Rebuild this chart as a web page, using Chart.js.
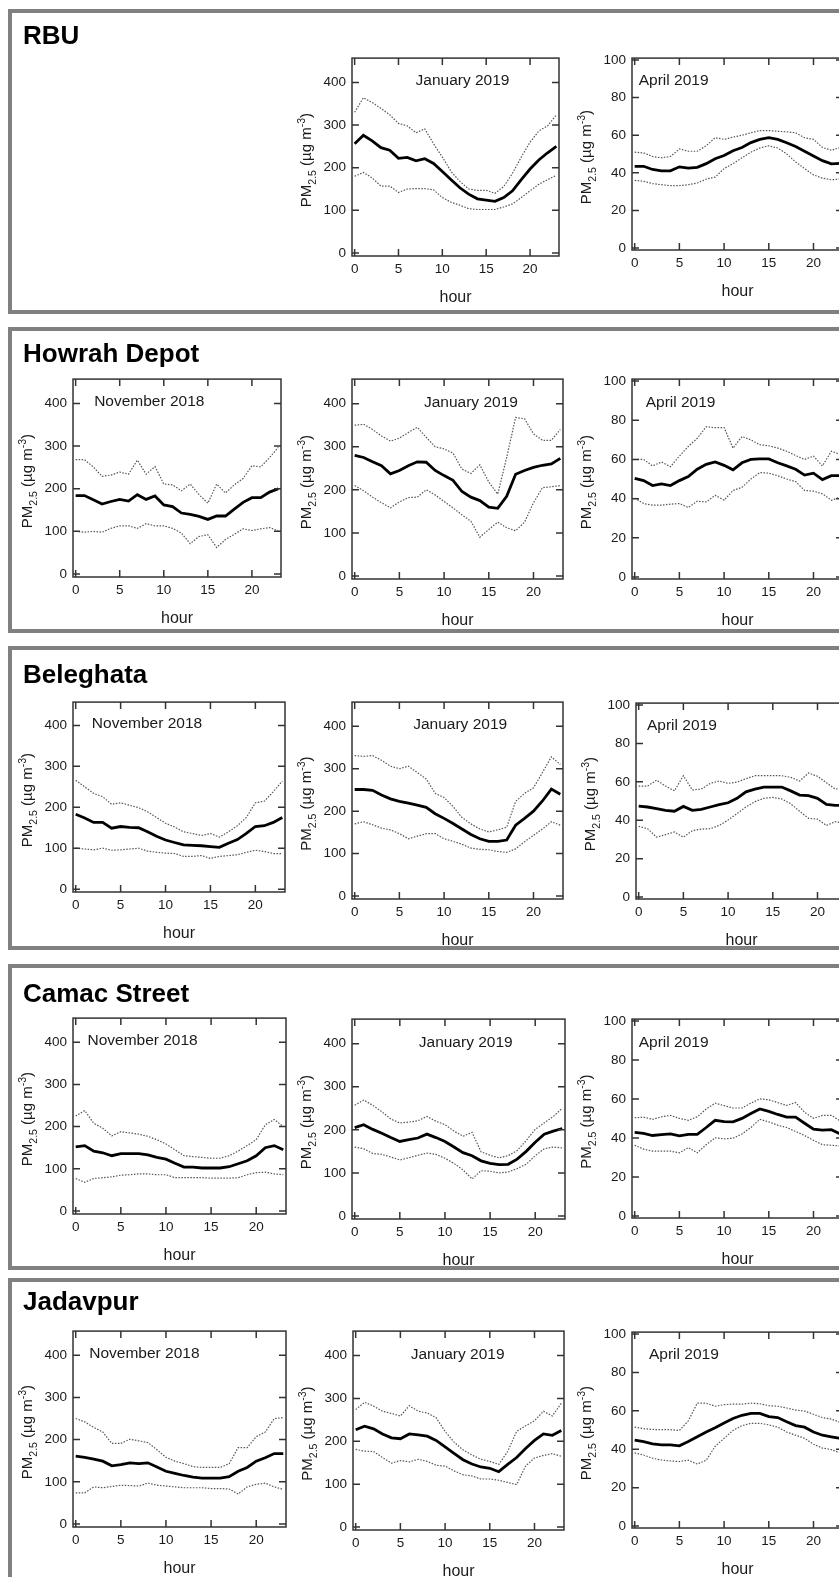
<!DOCTYPE html>
<html>
<head>
<meta charset="utf-8">
<script src="https://cdn.jsdelivr.net/npm/chart.js@4.4.1/dist/chart.umd.min.js"></script>
<style>
body{margin:0;width:839px;height:1577px;overflow:hidden;background:#fff;position:relative;font-family:"Liberation Sans",Arial,sans-serif}
.panel{position:absolute;left:8px;width:900px;border:4px solid #808080;box-sizing:border-box;z-index:2;pointer-events:none}
.site{position:absolute;left:23px;font-weight:bold;font-size:26px;line-height:26px;color:#000;z-index:3}
canvas{position:absolute;z-index:1}
</style>
</head>
<body>
<div class="panel" style="top:9px;height:305px"></div>
<div class="panel" style="top:327px;height:306px"></div>
<div class="panel" style="top:646px;height:304px"></div>
<div class="panel" style="top:964px;height:306px"></div>
<div class="panel" style="top:1278px;height:340px"></div>
<div class="site" style="top:22px">RBU</div>
<div class="site" style="top:340px">Howrah Depot</div>
<div class="site" style="top:661px">Beleghata</div>
<div class="site" style="top:980px">Camac Street</div>
<div class="site" style="top:1288px">Jadavpur</div>
<script>
// hours and tick values
let hours=[0,1,2,3,4,5,6,7,8,9,10,11,12,13,14,15,16,17,18,19,20,21,22,23]
let xTicks=[0,5,10,15,20]
let yTicksWinter=[0,100,200,300,400]
let yTicksApril=[0,20,40,60,80,100]

// RBU
let rbuJanMean=[256,276,263,247,241,222,224,216,221,210,191,172,153,138,127,124,121,130,146,172,197,218,235,250]
let rbuJanHi=[330,364,353,339,324,304,298,282,291,256,225,191,168,150,147,147,140,156,187,225,260,286,298,324]
let rbuJanLo=[180,189,176,157,157,142,150,151,151,148,130,119,112,104,102,102,102,108,115,130,146,161,172,182]
let rbuAprMean=[43.5,43.5,41.8,41.1,41.1,43.2,42.5,42.9,44.9,47.5,49.2,51.8,53.5,56.1,57.8,58.7,57.8,56,54,51.5,49,46.5,44.8,45]
let rbuAprHi=[51,50.6,48.7,48,48.7,52.7,51.5,51.5,54.4,58.7,57.8,59,60,61.3,62.5,62.5,62.1,61.8,61.3,58.7,57.8,53.5,52,53.5]
let rbuAprLo=[36,35.5,34.3,33.7,33.2,33.2,33.7,34.6,36.7,37.7,42.3,44.9,48,51,53.2,54.4,53.2,50.1,45.8,42.3,38.9,37.2,36.3,36.7]

// Howrah Depot
let howNovMean=[184,184,174,164,170,175,171,186,175,183,162,158,143,140,135,128,136,136,152,168,179,179,192,200]
let howNovHi=[268,268,251,229,232,239,234,267,234,252,211,209,195,211,186,166,211,190,209,224,254,251,273,297]
let howNovLo=[100,98,100,98,107,113,113,107,118,113,113,107,96,71,88,92,62,81,93,106,102,106,109,101]
let howJanMean=[280,275,265,256,237,245,256,265,264,245,233,222,196,183,175,160,157,185,236,245,252,257,260,273]
let howJanHi=[350,352,340,325,313,320,333,345,322,300,295,285,248,238,258,218,190,275,368,365,330,315,315,340]
let howJanLo=[210,198,183,170,158,172,182,183,200,188,173,158,142,127,90,108,125,112,105,125,170,205,207,210]
let howAprMean=[50.3,49.2,46.7,47.5,46.7,49.2,51.3,55,57.5,58.7,57,54.7,58.3,60,60.3,60.3,58.3,56.7,55,52,53,49.7,51.7,51.7]
let howAprHi=[60,60,56.7,58.7,56.3,61.7,66.7,70.8,76.7,76.2,76.3,65.8,71.7,70,67.5,67,65.8,64.2,62,60,61.7,56.7,64.2,62.5]
let howAprLo=[40.3,37.5,36.7,36.7,37.2,37.5,35.5,38.7,38.3,41.7,39.2,44.2,45.8,50,53.3,53,51.7,50,48.7,44.2,43.8,42.5,39.2,40.8]

// Beleghata
let belNovMean=[183,174,163,163,149,153,151,150,140,129,120,114,108,107,106,104,102,112,121,136,153,155,163,175]
let belNovHi=[266,250,234,226,207,211,205,199,189,175,161,152,140,136,131,136,127,140,155,175,211,215,238,264]
let belNovLo=[100,98,96,100,95,96,98,100,93,90,88,87,80,80,82,75,80,82,84,90,95,92,87,87]
let belJanMean=[251,251,249,238,229,223,219,214,209,194,183,171,158,145,135,129,129,132,167,183,200,224,252,240]
let belJanHi=[331,329,331,320,306,300,306,291,276,242,232,211,185,170,158,151,156,162,223,242,255,291,328,310]
let belJanLo=[170,175,168,160,156,147,135,141,147,147,135,129,122,113,110,109,105,103,111,128,143,158,175,167]
let belAprMean=[47.4,46.9,46,45.2,44.7,47.2,45.2,45.7,46.9,48.1,49.1,51.4,54.8,56.2,57.3,57.3,57.3,55.3,53.1,52.8,51.4,48.2,47.7,47.7]
let belAprHi=[57.8,57.8,60.9,57.8,55.3,63.2,55.8,56.2,59.2,60.4,59.2,59.9,61.6,63.2,63.2,63.2,63.2,62.4,60.4,64.6,62.9,59.5,56.2,57]
let belAprLo=[36.8,35.6,31.2,32.5,33.9,31.2,34.6,35.4,35.6,37.3,40.1,43.5,46.9,49.7,51.4,51.9,51.1,48.6,44.7,41,40.6,37.3,39.3,38.4]

// Camac Street
let camNovMean=[152,155,142,138,131,136,136,136,133,127,123,113,104,104,102,102,102,105,112,119,131,150,155,145]
let camNovHi=[225,238,208,196,178,188,185,182,177,169,159,145,131,129,127,125,125,131,142,155,169,204,217,200]
let camNovLo=[77,68,77,79,81,85,86,88,88,86,86,79,79,79,79,78,78,78,79,86,91,92,88,86]
let camJanMean=[205,212,201,192,182,173,177,181,190,182,173,160,147,140,128,122,119,120,132,150,171,190,197,203]
let camJanHi=[257,269,257,242,225,216,218,221,231,220,212,197,185,194,149,141,135,140,152,175,201,216,231,250]
let camJanLo=[160,156,145,143,137,130,135,141,146,143,134,122,107,86,105,104,100,102,110,120,140,156,160,158]
let camAprMean=[42.9,42.4,41.3,41.8,42.1,41.1,41.9,41.9,45.4,49.1,48.4,48.3,50.1,52.6,54.9,53.7,52.1,50.7,50.7,47.6,44.6,44.1,44.3,42.1]
let camAprHi=[50.4,50.7,49.6,50.9,51.6,50.1,49.1,50.9,54.9,57.9,56.6,55.4,55.4,57.9,60.1,59.6,58.2,56.7,58.2,53.2,50.1,51.6,51.6,48.8]
let camAprLo=[36.3,34.3,33.3,33.3,33.3,32.4,35.1,32.4,36.6,40.1,39.6,39.9,42.1,45.4,49.6,48.3,46.6,45.4,43.4,41.3,38.8,36.6,36.3,35.9]

// Jadavpur
let jadNovMean=[161,158,154,149,138,141,145,143,145,135,125,120,115,111,109,109,109,112,125,134,149,157,167,167]
let jadNovHi=[250,242,229,218,191,191,201,197,193,176,158,149,143,136,134,134,134,143,181,181,207,218,250,252]
let jadNovLo=[74,74,88,86,89,92,91,90,97,92,90,88,86,86,86,84,84,83,71,88,94,97,88,82]
let jadJanMean=[227,235,229,217,208,206,217,215,212,202,187,172,157,147,140,137,129,146,162,183,202,217,214,225]
let jadJanHi=[274,291,282,270,265,259,283,270,266,255,223,198,180,168,158,153,146,176,223,236,248,270,259,289]
let jadJanLo=[181,177,176,162,149,155,152,158,153,144,142,131,122,119,112,112,109,104,99,142,161,167,171,165]
let jadAprMean=[44.8,44,42.8,42.3,42.3,41.8,44,46.5,49,51.2,53.7,56,57.7,58.7,58.7,57,56.5,54.3,52.3,51.5,49,47.3,46.5,45.7]
let jadAprHi=[51.5,50.7,50.3,50.2,50.2,49.8,54.8,64,64,62.4,63.2,63.5,63.5,64,63.7,62.7,62.4,61.5,60.4,59.9,58.2,56.5,55.7,54]
let jadAprLo=[38.1,37,35.3,34.4,33.9,33.6,34.3,32.3,34.3,41.5,45.7,49.8,52.3,53.5,53.5,52.7,51.5,49,47.3,45.7,42.6,40.6,39.8,38.1]

const FONT='"Liberation Sans", Arial, sans-serif'
const PL=62, PT=8, PR=8, PB=58

// one entry per small plot: where the plot box sits and what it shows
let graficos=[
  {left:352,top:51.7,w:207,h:203.6,inv:true,mes:'January 2019',mx:12.3,mean:rbuJanMean,hi:rbuJanHi,lo:rbuJanLo},
  {left:631.5,top:51.7,w:211,h:197.7,inv:false,mes:'April 2019',mx:0.45,mean:rbuAprMean,hi:rbuAprHi,lo:rbuAprLo},

  {left:72.5,top:372.7,w:208,h:204,inv:true,mes:'November 2018',mx:2.1,mean:howNovMean,hi:howNovHi,lo:howNovLo},
  {left:352,top:372.7,w:210.5,h:205.6,inv:true,mes:'January 2019',mx:13,mean:howJanMean,hi:howJanHi,lo:howJanLo},
  {left:631.5,top:372.7,w:211,h:205.6,inv:false,mes:'April 2019',mx:1.23,mean:howAprMean,hi:howAprHi,lo:howAprLo},

  {left:73,top:696,w:211.5,h:195.7,inv:true,mes:'November 2018',mx:1.8,mean:belNovMean,hi:belNovHi,lo:belNovLo},
  {left:352,top:696,w:211,h:203,inv:true,mes:'January 2019',mx:11.8,mean:belJanMean,hi:belJanHi,lo:belJanLo},
  {left:635.5,top:696.7,w:211,h:201.6,inv:false,mes:'April 2019',mx:0.93,mean:belAprMean,hi:belAprHi,lo:belAprLo},

  {left:73,top:1011.7,w:213,h:201.6,inv:true,mes:'November 2018',mx:1.3,mean:camNovMean,hi:camNovHi,lo:camNovLo},
  {left:352,top:1013.3,w:213,h:206,inv:true,mes:'January 2019',mx:12.3,mean:camJanMean,hi:camJanHi,lo:camJanLo},
  {left:631.7,top:1013.3,w:211,h:205,inv:false,mes:'April 2019',mx:0.45,mean:camAprMean,hi:camAprHi,lo:camAprLo},

  {left:73,top:1325,w:213,h:201.7,inv:true,mes:'November 2018',mx:1.5,mean:jadNovMean,hi:jadNovHi,lo:jadNovLo},
  {left:353,top:1325,w:211,h:205,inv:true,mes:'January 2019',mx:11.4,mean:jadJanMean,hi:jadJanHi,lo:jadJanLo},
  {left:631.7,top:1326,w:211,h:201.7,inv:false,mes:'April 2019',mx:1.6,mean:jadAprMean,hi:jadAprHi,lo:jadAprLo}
]

function pares(vals){
  return hours.map((h,i)=>({x:h,y:vals[i]}))
}

function tituloY(ctx,x,y,f){
  let partes=[['PM',f,0],['2.5',f*0.7,f*0.3],[' (\u00b5g m',f,0],['-3',f*0.7,-f*0.45],[')',f,0]]
  ctx.save()
  ctx.translate(x,y)
  ctx.rotate(-Math.PI/2)
  let total=0
  partes.forEach(p=>{ctx.font=p[1]+'px '+FONT; total+=ctx.measureText(p[0]).width})
  let cx=-total/2
  ctx.textAlign='left'
  ctx.textBaseline='alphabetic'
  partes.forEach(p=>{
    ctx.font=p[1]+'px '+FONT
    ctx.fillText(p[0],cx,f*0.36+p[2])
    cx+=ctx.measureText(p[0]).width
  })
  ctx.restore()
}

function moldura(g){
  return {
    id:'moldura',
    afterDraw(chart){
      let ctx=chart.ctx, a=chart.chartArea, sx=chart.scales.x, sy=chart.scales.y
      let yt=g.inv?yTicksWinter:yTicksApril
      ctx.save()
      ctx.strokeStyle='#333'
      ctx.lineWidth=1.5
      ctx.strokeRect(a.left,a.top,a.right-a.left,a.bottom-a.top)
      ctx.beginPath()
      xTicks.forEach(v=>{
        let px=sx.getPixelForValue(v)
        ctx.moveTo(px,a.bottom); ctx.lineTo(px,a.bottom-7)
        ctx.moveTo(px,a.top); ctx.lineTo(px,a.top+7)
      })
      yt.forEach(v=>{
        let py=sy.getPixelForValue(v)
        ctx.moveTo(a.left,py); ctx.lineTo(a.left+7,py)
        ctx.moveTo(a.right,py); ctx.lineTo(a.right-7,py)
      })
      ctx.stroke()
      ctx.fillStyle='#1a1a1a'
      ctx.font='15.5px '+FONT
      ctx.textBaseline='middle'
      ctx.textAlign=g.inv&&g.mes.startsWith('Jan')?'center':'left'
      ctx.fillText(g.mes,sx.getPixelForValue(g.mx),sy.getPixelForValue(g.inv?403:89))
      ctx.textAlign='center'
      ctx.font='16px '+FONT
      ctx.fillText('hour',(a.left+a.right)/2,a.bottom+42)
      tituloY(ctx,a.left-46,(a.top+a.bottom)/2+3,15)
      ctx.restore()
    }
  }
}

graficos.forEach(g=>{
  let c=document.createElement('canvas')
  let W=Math.round(g.w+PL+PR), H=Math.round(g.h+PT+PB)
  c.width=W
  c.height=H
  c.style.left=(g.left-PL)+'px'
  c.style.top=(g.top-PT)+'px'
  c.style.width=W+'px'
  c.style.height=H+'px'
  document.body.appendChild(c)
  let tickFont={size:13.5,family:FONT}
  new Chart(c,{
    type:'line',
    data:{
      datasets:[
        {data:pares(g.hi),borderColor:'#555',borderWidth:1.2,borderDash:[1.5,1.5],pointRadius:0,fill:false},
        {data:pares(g.lo),borderColor:'#555',borderWidth:1.2,borderDash:[1.5,1.5],pointRadius:0,fill:false},
        {data:pares(g.mean),borderColor:'#000',borderWidth:2.8,pointRadius:0,fill:false}
      ]
    },
    options:{
      responsive:false,
      animation:false,
      events:[],
      layout:{padding:{left:0,top:PT,right:PR,bottom:0},autoPadding:false},
      plugins:{legend:{display:false},tooltip:{enabled:false}},
      scales:{
        x:{
          type:'linear',min:-0.3,max:23.3,
          afterFit:s=>{s.height=PB},
          afterBuildTicks:s=>{s.ticks=xTicks.map(v=>({value:v}))},
          grid:{display:false,drawTicks:false},
          border:{display:false},
          ticks:{padding:5,color:'#1a1a1a',font:tickFont,maxRotation:0,autoSkip:false}
        },
        y:{
          type:'linear',
          min:g.inv?-7:-1,max:g.inv?457:101,
          afterFit:s=>{s.width=PL},
          afterBuildTicks:s=>{s.ticks=(g.inv?yTicksWinter:yTicksApril).map(v=>({value:v}))},
          grid:{display:false,drawTicks:false},
          border:{display:false},
          ticks:{padding:6,color:'#1a1a1a',font:tickFont,autoSkip:false}
        }
      }
    },
    plugins:[moldura(g)]
  })
})
</script>
</body>
</html>
